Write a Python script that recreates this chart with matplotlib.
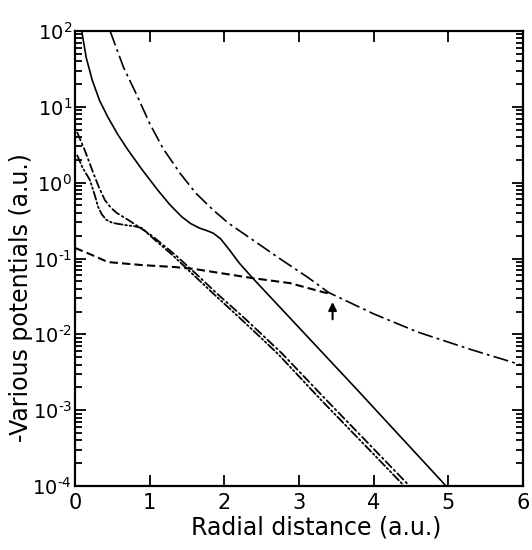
import math
import matplotlib
matplotlib.use("Agg")
import matplotlib.pyplot as plt
from matplotlib.ticker import FixedLocator, LogLocator, FuncFormatter, NullFormatter

plt.rcParams['font.family'] = ['DejaVu Sans']
plt.rcParams['lines.scale_dashes'] = False

# Curve A: long dash-dot (x, log10 value)
a_x = [0.47, 0.65, 0.84, 1.00, 1.18, 1.41, 1.62, 1.85, 2.05, 2.30, 2.74, 3.12, 3.40, 4.00, 4.59, 5.30, 6.00]
a_log = [2.0, 1.52, 1.13, 0.78, 0.45, 0.12, -0.14, -0.36, -0.53, -0.70, -1.00, -1.25, -1.45, -1.73, -1.97, -2.20, -2.41]

# Curve B: solid
b_x = [0.09, 0.15, 0.23, 0.33, 0.44, 0.57, 0.71, 0.90, 1.11, 1.27, 1.43, 1.55, 1.67, 1.76, 1.85, 1.95, 2.07, 2.20, 2.38, 3.75, 4.97]
b_log = [2.0, 1.65, 1.354, 1.08, 0.865, 0.64, 0.43, 0.17, -0.10, -0.29, -0.45, -0.54, -0.60, -0.63, -0.665, -0.74, -0.889, -1.06, -1.259, -2.70, -4.0]

# Curve C: short dash
c_x = [0.00, 0.23, 0.44, 0.90, 1.34, 1.61, 2.38, 2.88, 3.32, 3.40]
c_log = [-0.86, -0.955, -1.047, -1.087, -1.113, -1.140, -1.259, -1.325, -1.443, -1.46]

# Curve D: dash-dot with dots (upper start)
d_x = [0.03, 0.13, 0.24, 0.32, 0.40, 0.48, 0.56, 0.71, 0.85, 1.03, 1.34, 1.63, 1.91, 2.24, 2.48, 2.78, 3.37, 3.99, 4.48]
d_log = [0.66, 0.43, 0.14, -0.06, -0.23, -0.33, -0.40, -0.49, -0.58, -0.70, -0.95, -1.21, -1.47, -1.76, -1.98, -2.26, -2.87, -3.50, -4.0]

# Curve E: dash-dot-dot (lower start)
e_x = [0.03, 0.10, 0.20, 0.26, 0.31, 0.36, 0.42, 0.50, 0.67, 0.80, 0.90, 1.03, 1.30, 1.58, 1.86, 2.18, 2.42, 2.72, 3.30, 3.92, 4.41]
e_log = [0.36, 0.20, 0.034, -0.15, -0.32, -0.42, -0.49, -0.53, -0.559, -0.575, -0.60, -0.72, -0.95, -1.21, -1.47, -1.76, -1.98, -2.26, -2.87, -3.50, -4.0]

arrow_x = 3.45
arrow_tail = 0.0145
arrow_head = 0.029

x_ticks = [0, 1, 2, 3, 4, 5, 6]
y_ticks = [1e-4, 1e-3, 1e-2, 1e-1, 1e0, 1e1, 1e2]


def pw(logs):
    return [10.0 ** v for v in logs]


def ylab(v, p):
    n = round(math.log10(v))
    e = ('\u2010%d' % abs(n)) if n < 0 else ('%d' % n)
    return r'$\mathregular{10^{%s}}$' % e


fig = plt.figure(figsize=(5.32, 5.50), dpi=100)
ax = fig.add_axes([0.141, 0.1164, 0.842, 0.8272])

ax.plot(a_x, pw(a_log), color='black', lw=1.2, dashes=(11, 3, 2, 3))
ax.plot(b_x, pw(b_log), color='black', lw=1.2)
ax.plot(c_x, pw(c_log), color='black', lw=1.5, dashes=(6, 3))
ax.plot(d_x, pw(d_log), color='black', lw=1.3, dashes=(6, 2.5, 1.2, 2.5), dash_capstyle='round')
ax.plot(e_x, pw(e_log), color='black', lw=1.3, dashes=(6, 2, 1.2, 2, 1.2, 2), dash_capstyle='round')

ax.annotate('', xy=(arrow_x, arrow_head), xytext=(arrow_x, arrow_tail),
            arrowprops=dict(arrowstyle='-|>', lw=1.5, color='black', mutation_scale=12))

ax.set_yscale('log')
ax.set_xlim(0, 6)
ax.set_ylim(1e-4, 1e2)
ax.xaxis.set_major_locator(FixedLocator(x_ticks))
ax.yaxis.set_major_locator(FixedLocator(y_ticks))
ax.yaxis.set_minor_locator(LogLocator(base=10, subs=range(2, 10), numticks=20))
ax.yaxis.set_minor_formatter(NullFormatter())
ax.yaxis.set_major_formatter(FuncFormatter(ylab))

for s in ax.spines.values():
    s.set_linewidth(1.6)
ax.tick_params(which='both', direction='in', top=True, right=True, width=1.3)
ax.tick_params(which='major', length=8, pad=5)
ax.tick_params(which='minor', length=5)
ax.tick_params(axis='x', which='major', labelsize=15)
ax.tick_params(axis='y', which='major', pad=2, labelsize=14)

ax.set_xlabel('Radial distance (a.u.)', fontsize=17)
ax.xaxis.set_label_coords(0.538, -0.065)
ax.set_ylabel('-Various potentials (a.u.)', fontsize=17)
ax.yaxis.set_label_coords(-0.094, 0.415)

fig.savefig('out.png', dpi=100)
